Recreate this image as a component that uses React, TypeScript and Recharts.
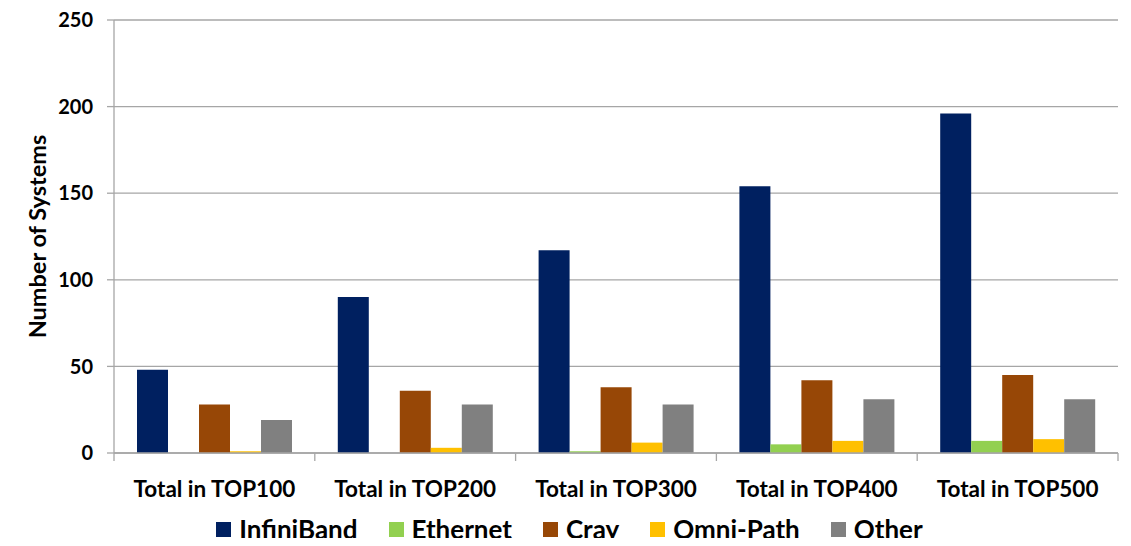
import { BarChart, Bar, XAxis, YAxis, CartesianGrid, Legend } from "recharts";

const categories = [
  "Total in TOP100",
  "Total in TOP200",
  "Total in TOP300",
  "Total in TOP400",
  "Total in TOP500",
];
const infiniBand = [48, 90, 117, 154, 196];
const ethernet = [0, 0, 1, 5, 7];
const cray = [28, 36, 38, 42, 45];
const omniPath = [1, 3, 6, 7, 8];
const other = [19, 28, 28, 31, 31];

const yTicks = [0, 50, 100, 150, 200, 250];

const series = [
  { name: "InfiniBand", values: infiniBand, color: "#002060" },
  { name: "Ethernet", values: ethernet, color: "#92d050" },
  { name: "Cray", values: cray, color: "#974706" },
  { name: "Omni-Path", values: omniPath, color: "#ffc000" },
  { name: "Other", values: other, color: "#808080" },
];

const data = categories.map((name, i) => {
  const row: Record<string, string | number> = { name };
  series.forEach((s) => {
    row[s.name] = s.values[i];
  });
  return row;
});

const font = "Lato, 'Open Sans', sans-serif";
const axisGray = "#a6a6a6";

// category label plus tick marks on the band edges (Excel style)
const CategoryTick = (props: any) => {
  const { x, y, payload, index, visibleTicksCount } = props;
  const half = payload?.offset ?? 0;
  const last = index === (visibleTicksCount ?? categories.length) - 1;
  return (
    <g>
      <line x1={x - half} x2={x - half} y1={y} y2={y + 8} stroke={axisGray} strokeWidth={1.3} />
      {last && (
        <line x1={x + half} x2={x + half} y1={y} y2={y + 8} stroke={axisGray} strokeWidth={1.3} />
      )}
      <text
        x={x}
        y={y + 44}
        textAnchor="middle"
        fill="#000"
        fontSize={22.5}
        fontWeight={700}
        fontFamily={font}
      >
        {payload.value}
      </text>
    </g>
  );
};

const renderLegend = () => (
  <div
    style={{
      display: "flex",
      justifyContent: "center",
      fontFamily: font,
      fontWeight: 700,
      fontSize: 26,
      color: "#000",
      lineHeight: "31px",
    }}
  >
    {series.map((s, i) => (
      <div
        key={s.name}
        style={{
          display: "flex",
          alignItems: "center",
          marginLeft: i === 0 ? 0 : 31,
        }}
      >
        <span
          style={{
            width: 15,
            height: 15,
            background: s.color,
            marginRight: 8,
            display: "inline-block",
          }}
        />
        <span>{s.name}</span>
      </div>
    ))}
  </div>
);

export default function App() {
  return (
    <div style={{ width: 1123, height: 538, overflow: "hidden", marginBottom: -8 }}>
      <BarChart
        width={1123}
        height={538}
        data={data}
        margin={{ top: 12, right: 13, left: 0, bottom: 43 }}
        barCategoryGap={23}
        barGap={0}
      >
        <CartesianGrid vertical={false} stroke={axisGray} strokeWidth={1.3} />
        <XAxis
          dataKey="name"
          height={50}
          interval={0}
          tickLine={false}
          tickSize={0}
          tickMargin={0}
          axisLine={{ stroke: axisGray, strokeWidth: 1.3 }}
          tick={<CategoryTick />}
        />
        <YAxis
          width={106}
          domain={[0, 250]}
          ticks={yTicks}
          interval={0}
          tickSize={7}
          tickMargin={14}
          axisLine={{ stroke: axisGray, strokeWidth: 1.3 }}
          tickLine={{ stroke: axisGray, strokeWidth: 1.3 }}
          tick={{ fill: "#000", fontSize: 20, fontWeight: 700, fontFamily: font }}
          label={{
            value: "Number of Systems",
            angle: -90,
            position: "center",
            dx: -23,
            style: { fill: "#000", fontSize: 23.5, fontWeight: 700, fontFamily: font },
          }}
        />
        <Legend
          verticalAlign="middle"
          layout="horizontal"
          content={renderLegend}
          wrapperStyle={{ top: 506, left: 0, width: 1123 }}
        />
        {series.map((s) => (
          <Bar
            key={s.name}
            dataKey={s.name}
            fill={s.color}
            isAnimationActive={false}
          />
        ))}
      </BarChart>
    </div>
  );
}
